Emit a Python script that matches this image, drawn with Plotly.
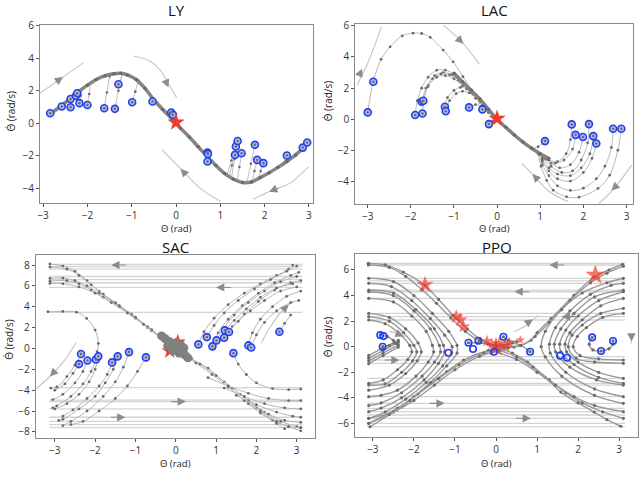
import plotly.graph_objects as go
from plotly.subplots import make_subplots

# ====================== DATA ======================
# ---------- LY ----------
LY_CURVE_X = [-2.85, -2.6, -2.4, -2.2, -2.0, -1.8, -1.6, -1.4, -1.25, -1.1, -0.9, -0.7, -0.5, -0.3, -0.1,
              0.1, 0.3, 0.5, 0.7, 0.9, 1.1, 1.3, 1.5, 1.7, 1.9, 2.1, 2.3, 2.5, 2.7, 2.9, 3.0]
LY_CURVE_Y = [0.55, 1.05, 1.5, 1.95, 2.35, 2.7, 2.93, 3.05, 3.08, 2.98, 2.7, 2.15, 1.45, 0.85, 0.3,
              -0.3, -0.85, -1.45, -2.05, -2.6, -3.1, -3.45, -3.65, -3.62, -3.35, -3.05, -2.72, -2.36, -1.95, -1.45, -1.15]
LY_START_X = [-2.84, -2.58, -2.38, -2.38, -2.26, -2.23, -2.18, -2.0, -1.62, -1.38, -1.30, -0.99, -0.53, -0.11,
              -0.07, 0.71, 0.72, 0.71, 1.33, 1.35, 1.39, 1.48, 1.78, 1.83, 1.97, 2.50, 2.86, 2.96]
LY_START_Y = [0.62, 1.03, 1.5, 0.99, 1.7, 1.85, 1.24, 1.13, 0.93, 0.89, 2.41, 1.3, 1.34, 0.66,
              0.52, -1.8, -1.89, -2.36, -1.95, -1.43, -1.09, -1.85, -1.33, -2.26, -2.46, -1.99, -1.5, -1.19]
LY_TRAJ = [
    [(-2.0, 1.13), (-1.96, 1.8), (-1.93, 2.45)],
    [(-2.18, 1.24), (-2.15, 1.7), (-2.12, 2.1)],
    [(-2.38, 0.99), (-2.35, 1.35), (-2.33, 1.7)],
    [(-1.62, 0.93), (-1.56, 1.9), (-1.5, 2.9)],
    [(-1.38, 0.89), (-1.3, 2.0), (-1.22, 3.05)],
    [(-1.30, 2.41), (-1.2, 3.05)],
    [(-0.99, 1.3), (-0.92, 1.95), (-0.85, 2.62)],
    [(1.33, -1.95), (1.26, -2.6), (1.2, -3.3)],
    [(1.35, -1.43), (1.25, -2.3), (1.15, -3.2)],
    [(1.39, -1.09), (1.32, -2.2), (1.25, -3.4)],
    [(1.48, -1.85), (1.43, -2.7), (1.38, -3.55)],
    [(1.78, -1.33), (1.69, -2.5), (1.6, -3.65)],
    [(1.83, -2.26), (1.77, -2.95), (1.72, -3.62)],
    [(1.97, -2.46), (1.91, -2.95), (1.85, -3.45)],
    [(2.50, -1.99), (2.4, -2.55)],
]
LY_STREAMS = [
    [(-3.07, 1.85), (-2.6, 2.75), (-2.09, 3.74)],
    [(-0.96, 4.15), (-0.6, 3.85), (-0.35, 3.25), (-0.14, 2.3), (0.02, 1.54)],
    [(-0.31, -1.64), (0.13, -2.87), (0.54, -4.0), (1.01, -4.83)],
    [(1.74, -4.68), (2.16, -4.15), (2.57, -3.69), (2.99, -2.67)],
]
LY_ARROWS = [((-2.55, 2.86), (-2.75, 2.48)), ((-0.17, 2.2), (-0.24, 2.65)),
             ((0.1, -2.8), (0.25, -3.25)), ((2.1, -4.22), (2.35, -3.95))]
LY_STAR_X = [0.0]
LY_STAR_Y = [0.05]

# ---------- LAC ----------
LAC_DIAG_X = [-1.0, -0.8, -0.6, -0.4, -0.2, 0.0, 0.2, 0.4, 0.6, 0.8, 1.0, 1.2]
LAC_DIAG_Y = [2.95, 2.4, 1.85, 1.3, 0.65, 0.0, -0.5, -1.0, -1.45, -1.85, -2.2, -2.5]
LAC_START_X = [-3.0, -2.87, -1.90, -1.75, -1.71, -1.73, -1.21, -1.19, -0.65, -0.34, -0.19,
               1.11, 1.73, 1.82, 1.99, 2.13, 2.23, 2.30, 2.69, 2.88]
LAC_START_Y = [0.45, 2.41, 0.28, 1.13, 1.19, 0.38, 0.81, 0.53, 0.77, 0.64, -0.30,
               -1.39, -0.32, -0.99, -1.13, -0.30, -1.07, -1.54, -0.60, -0.60]
LAC_TRAJ = [
    [(-3.0, 0.45), (-2.87, 2.41), (-2.69, 3.85), (-2.48, 4.65), (-2.2, 5.35), (-1.95, 5.52), (-1.75, 5.5),
     (-1.55, 5.25), (-1.25, 4.44), (-1.02, 3.69), (-0.79, 2.73), (-0.6, 1.9)],
    [(-1.9, 0.28), (-1.85, 1.2), (-1.75, 2.0), (-1.6, 2.7), (-1.4, 3.15), (-1.2, 3.15), (-1.0, 2.9), (-0.8, 2.4), (-0.6, 1.75)],
    [(-1.73, 0.38), (-1.7, 1.3), (-1.6, 2.2), (-1.45, 2.8), (-1.25, 3.0), (-1.05, 2.85), (-0.85, 2.4), (-0.6, 1.7)],
    [(-1.75, 1.13), (-1.65, 2.0), (-1.5, 2.6), (-1.3, 2.9), (-1.1, 2.85), (-0.9, 2.5), (-0.7, 1.95)],
    [(-1.71, 1.19), (-1.6, 2.1), (-1.4, 2.7), (-1.2, 2.8), (-1.0, 2.6), (-0.8, 2.15)],
    [(-1.21, 0.81), (-1.15, 1.4), (-1.0, 1.85), (-0.85, 2.05), (-0.7, 1.95), (-0.55, 1.6), (-0.4, 1.1)],
    [(-1.19, 0.53), (-1.1, 1.2), (-0.95, 1.65), (-0.8, 1.8), (-0.65, 1.7), (-0.5, 1.35), (-0.35, 0.9)],
    [(-0.65, 0.77), (-0.5, 0.95), (-0.35, 0.8), (-0.2, 0.45)],
    [(-0.34, 0.64), (-0.2, 0.45), (0.0, 0.0)],
    [(-0.19, -0.3), (-0.1, -0.1), (0.0, 0.0)],
    [(2.88, -0.6), (2.8, -1.97), (2.61, -3.57), (2.34, -4.42), (1.9, -4.98), (1.61, -4.96), (1.3, -4.53), (1.15, -3.9), (1.02, -3.0), (0.95, -2.2)],
    [(2.69, -0.6), (2.65, -1.8), (2.5, -3.0), (2.3, -3.8), (2.0, -4.4), (1.7, -4.55), (1.4, -4.25), (1.2, -3.6), (1.05, -2.9), (0.98, -2.25)],
    [(2.30, -1.54), (2.2, -2.5), (2.0, -3.4), (1.7, -3.95), (1.4, -3.8), (1.2, -3.3), (1.05, -2.7)],
    [(2.23, -1.07), (2.15, -2.2), (1.95, -3.1), (1.7, -3.6), (1.4, -3.5), (1.2, -3.1), (1.05, -2.6)],
    [(2.13, -0.30), (2.1, -1.5), (1.95, -2.6), (1.75, -3.3), (1.5, -3.4), (1.25, -3.0), (1.05, -2.5)],
    [(1.99, -1.13), (1.9, -2.1), (1.7, -2.9), (1.45, -3.1), (1.25, -2.8), (1.1, -2.5)],
    [(1.82, -0.99), (1.75, -1.9), (1.55, -2.6), (1.35, -2.8), (1.15, -2.55)],
    [(1.73, -0.32), (1.7, -1.3), (1.6, -2.2), (1.4, -2.7), (1.2, -2.6), (1.05, -2.35)],
    [(1.11, -1.39), (0.95, -1.75), (0.8, -1.85), (0.65, -1.55)],
]
LAC_STREAMS = [
    [(-3.25, 2.2), (-3.0, 3.6), (-2.68, 5.94)],
    [(-1.25, 6.04), (-0.82, 4.97), (-0.41, 3.54)],
    [(0.57, -2.82), (0.84, -3.57), (1.2, -4.6), (1.65, -5.28)],
    [(2.36, -5.38), (2.69, -4.49), (3.12, -2.93)],
]
LAC_ARROWS = [((-3.13, 3.25), (-3.2, 2.8)), ((-0.78, 4.85), (-0.95, 5.3)),
              ((0.82, -3.5), (0.97, -3.95)), ((2.65, -4.55), (2.8, -4.15))]
LAC_STAR_X = [0.0]
LAC_STAR_Y = [0.05]

# ---------- SAC ----------
SAC_START_X = [-2.35, -2.40, -2.19, -1.98, -1.92, -1.58, -1.44, -1.16, -0.74,
               0.56, 0.77, 0.91, 1.01, 1.20, 1.22, 1.32, 1.43, 1.80, 1.87, 2.57]
SAC_START_Y = [-0.54, -1.5, -1.15, -1.05, -0.76, -1.34, -0.76, -0.35, -0.86,
               0.39, 1.09, 0.2, 0.77, 1.02, 1.73, 1.57, -0.45, 0.29, 0.09, 1.6]
SAC_TRAJ = [
    # lower-left fan
    [(-2.35, -0.54), (-2.5, -1.6), (-2.7, -2.7), (-2.95, -3.7), (-3.1, -3.8)],
    [(-2.40, -1.5), (-2.55, -2.4), (-2.75, -3.4), (-3.0, -4.0)],
    [(-2.19, -1.15), (-2.3, -2.2), (-2.5, -3.3), (-2.8, -4.4), (-3.05, -4.9)],
    [(-1.98, -1.05), (-2.1, -2.2), (-2.3, -3.4), (-2.6, -4.6), (-2.95, -5.5), (-3.05, -5.7)],
    [(-1.92, -0.76), (-2.0, -2.0), (-2.15, -3.2), (-2.4, -4.4), (-2.7, -5.3), (-3.0, -5.8)],
    [(-1.58, -1.34), (-1.7, -2.5), (-1.9, -3.6), (-2.2, -4.8), (-2.55, -5.9), (-2.8, -6.5)],
    [(-1.44, -0.76), (-1.55, -2.0), (-1.75, -3.3), (-2.0, -4.6), (-2.4, -5.8), (-2.8, -6.8), (-2.9, -6.9)],
    [(-1.16, -0.35), (-1.3, -1.8), (-1.5, -3.2), (-1.8, -4.6), (-2.2, -6.0), (-2.6, -7.0), (-2.8, -7.4)],
    [(-0.74, -0.86), (-0.95, -2.2), (-1.2, -3.6), (-1.5, -4.8), (-1.9, -6.0), (-2.3, -7.0), (-2.6, -7.3)],
    # upper-right fan
    [(0.56, 0.39), (0.7, 1.6), (0.95, 2.9), (1.3, 4.2), (1.7, 5.3), (2.1, 6.2), (2.5, 7.0), (2.8, 7.6), (2.9, 8.0)],
    [(0.77, 1.09), (0.95, 2.2), (1.2, 3.4), (1.55, 4.6), (1.95, 5.7), (2.35, 6.6), (2.75, 7.4), (3.0, 7.9)],
    [(0.91, 0.2), (1.05, 1.5), (1.3, 2.8), (1.65, 4.1), (2.05, 5.3), (2.45, 6.3), (2.85, 7.0), (3.05, 7.3)],
    [(1.01, 0.77), (1.2, 2.0), (1.45, 3.2), (1.8, 4.4), (2.2, 5.5), (2.6, 6.4), (3.0, 6.9)],
    [(1.20, 1.02), (1.4, 2.1), (1.7, 3.3), (2.05, 4.5), (2.45, 5.6), (2.85, 6.3), (3.1, 6.5)],
    [(1.22, 1.73), (1.45, 2.7), (1.75, 3.8), (2.1, 4.9), (2.5, 5.8), (2.9, 6.2)],
    [(1.32, 1.57), (1.55, 2.6), (1.85, 3.6), (2.2, 4.6), (2.6, 5.5), (3.0, 5.9)],
    [(1.80, 0.29), (1.9, 1.5), (2.1, 2.8), (2.4, 4.0), (2.75, 5.0), (3.1, 5.5)],
    [(1.87, 0.09), (2.0, 1.3), (2.2, 2.5), (2.5, 3.6), (2.85, 4.4), (3.05, 4.6)],
    [(2.57, 1.6), (2.7, 2.4), (2.85, 3.2)],
    [(1.43, -0.45), (1.55, -1.5), (1.75, -2.5), (2.0, -3.3), (2.4, -3.85), (2.8, -3.95), (3.1, -3.9)],
    # left arc
    [(-3.17, 3.52), (-2.8, 3.55), (-2.46, 3.48), (-2.21, 2.88), (-2.0, 1.76), (-1.92, 0.48), (-1.95, -0.3)],
    # diagonal band
    [(-3.12, 8.1), (-2.8, 7.9), (-2.5, 7.4), (-2.2, 6.5), (-1.9, 5.5), (-1.5, 4.4), (-1.1, 3.3), (-0.7, 2.1), (-0.3, 0.9), (0.0, 0.0)],
    [(-3.12, 7.8), (-2.7, 7.6), (-2.4, 7.0), (-2.1, 6.1), (-1.8, 5.2), (-1.4, 4.1), (-1.0, 3.0), (-0.6, 1.8), (-0.2, 0.6), (0.0, 0.0)],
    [(-3.12, 6.72), (-2.8, 6.75), (-2.5, 6.5), (-2.2, 6.0), (-1.9, 5.3), (-1.5, 4.3), (-1.1, 3.2), (-0.7, 2.0), (-0.3, 0.8)],
    [(-3.12, 6.45), (-2.7, 6.5), (-2.4, 6.2), (-2.1, 5.6), (-1.8, 4.9), (-1.4, 4.0), (-1.0, 2.9), (-0.6, 1.7), (-0.2, 0.5)],
    [(-3.12, 6.24), (-2.8, 6.2), (-2.4, 5.9), (-2.0, 5.3), (-1.6, 4.4), (-1.2, 3.4), (-0.8, 2.3), (-0.4, 1.1)],
    [(0.0, 0.0), (0.4, -1.0), (0.8, -1.9), (1.2, -3.2), (1.6, -4.4), (2.0, -5.7), (2.4, -6.9), (2.8, -7.5), (3.1, -7.9)],
    [(0.1, -0.5), (0.5, -1.4), (0.9, -2.5), (1.3, -3.7), (1.7, -5.0), (2.1, -6.2), (2.5, -7.2), (2.7, -7.7)],
    [(0.2, -0.6), (0.6, -1.5), (1.0, -2.6), (1.4, -3.8), (1.8, -5.0), (2.2, -6.1), (2.6, -7.0), (3.0, -7.5), (3.1, -7.6)],
    [(0.8, -2.8), (1.3, -3.6), (1.8, -4.3), (2.3, -4.8), (2.8, -5.0), (3.1, -5.0)],
    [(1.2, -3.8), (1.7, -4.6), (2.2, -5.3), (2.7, -5.7), (3.1, -5.8)],
    [(1.5, -4.5), (2.0, -5.4), (2.5, -6.1), (2.9, -6.5), (3.1, -6.6)],
    [(1.8, -5.3), (2.3, -6.3), (2.7, -6.9), (3.1, -7.1)],
    [(2.1, -6.0), (2.5, -7.0), (2.8, -7.5), (3.1, -7.6)],
]
SAC_BLOB_X = [-0.35, -0.27, -0.18, -0.1, -0.02, 0.06, 0.14, 0.22, 0.3, -0.2, 0.12, -0.08, 0.2, 0.0, 0.08]
SAC_BLOB_Y = [1.2, 0.95, 0.7, 0.45, 0.2, -0.05, -0.3, -0.6, -0.9, 0.25, 0.35, -0.2, 0.05, 0.55, -0.45]
SAC_HLINE_Y = [8.05, 7.85, 7.6, 6.9, 6.6, 6.3, 5.85, 3.45, -3.75, -4.95, -5.1, -5.8, -6.6, -7.0, -7.3, -7.6]
SAC_STREAMS = [
    [(-3.46, -3.85), (-3.07, -2.5), (-2.75, -1.1), (-2.47, 0.6)],
    [(2.12, 0.5), (2.3, 1.8), (2.55, 3.2), (2.77, 4.11), (2.94, 4.5)],
]
SAC_ARROWS = [((-1.6, 8.0), (-1.2, 8.0)), ((1.0, 5.85), (1.4, 5.85)), ((0.25, -5.1), (-0.15, -5.1)),
              ((-1.25, -6.6), (-1.65, -6.6)), ((-3.12, -2.7), (-3.0, -2.2)), ((2.8, 4.2), (2.68, 3.75))]
SAC_STAR_X = [0.05, -0.15, 0.1, -0.1, 0.0]
SAC_STAR_Y = [0.6, -0.25, 0.0, 0.3, 0.1]

# ---------- PPO ----------
PPO_HLINE_Y = [6.52, 6.39, 5.35, 5.15, 4.96, 4.43, 4.3, 3.78, 2.61, 2.35, 2.09, -0.78, -1.04, -1.3,
               -2.48, -2.87, -3.0, -3.91, -4.43, -4.82, -5.08, -5.34, -5.6, -5.99, -6.25]
PPO_START_X = [-2.82, -2.74, -2.76, -1.16, -0.67, -0.56, -0.43, -0.05, 0.18, 0.83, 1.56, 1.73, 2.34, 2.56, 2.85]
PPO_START_Y = [0.91, 0.83, 0.0, -0.47, 0.31, -0.18, 0.47, -0.39, 0.78, -0.39, -0.7, -0.86, 0.73, -0.34, 0.45]
PPO_TRAJ = [
    # separatrix bundles
    [(-3.11, 6.52), (-2.7, 6.4), (-2.26, 5.84), (-1.73, 4.8), (-1.4, 3.7), (-1.04, 2.45), (-0.7, 1.4), (-0.4, 0.63), (0.0, 0.1), (0.3, 0.2)],
    [(-3.11, 6.39), (-2.6, 6.2), (-2.2, 5.5), (-1.8, 4.45), (-1.45, 3.4), (-1.1, 2.25), (-0.75, 1.2), (-0.4, 0.45), (0.0, 0.05)],
    [(3.08, 6.45), (2.75, 6.0), (2.39, 5.45), (1.9, 4.02), (1.34, 2.19), (1.0, 1.1), (0.85, 0.5), (0.44, -0.03), (0.0, 0.0)],
    [(3.1, 6.3), (2.7, 5.75), (2.3, 5.0), (1.8, 3.6), (1.3, 1.9), (0.95, 0.8), (0.6, 0.1), (0.2, 0.05)],
    [(0.3, -0.1), (-0.19, -0.3), (-0.79, -1.04), (-1.2, -1.95), (-1.6, -2.87), (-2.0, -3.9), (-2.42, -4.95), (-3.07, -6.26)],
    [(0.2, -0.2), (-0.3, -0.5), (-0.9, -1.4), (-1.4, -2.5), (-1.9, -3.7), (-2.4, -4.8), (-3.1, -5.99)],
    [(0.1, -0.3), (-0.4, -0.75), (-1.0, -1.8), (-1.5, -3.0), (-2.0, -4.2), (-2.5, -5.1), (-3.1, -5.6)],
    [(0.0, 0.0), (0.4, -0.5), (0.77, -1.2), (1.2, -2.4), (1.58, -3.55), (2.0, -4.4), (2.39, -5.11), (2.7, -5.7), (3.04, -6.22)],
    [(0.0, -0.2), (0.5, -0.8), (0.9, -1.6), (1.3, -2.6), (1.7, -3.6), (2.1, -4.4), (2.6, -5.1), (3.1, -5.6)],
    [(-0.1, -0.3), (0.5, -1.0), (1.0, -2.0), (1.45, -3.0), (1.9, -3.9), (2.4, -4.6), (3.1, -5.08)],
    # left chevrons
    [(-3.1, 2.09), (-2.7, 1.8), (-2.35, 1.0), (-2.1, 0.1), (-2.05, -0.4), (-2.15, -1.0), (-2.4, -1.8), (-2.75, -2.6), (-3.1, -2.87)],
    [(-3.1, 2.35), (-2.6, 2.0), (-2.25, 1.1), (-2.0, 0.1), (-1.93, -0.4), (-2.03, -1.1), (-2.3, -2.0), (-2.7, -2.9), (-3.1, -3.0)],
    [(-3.1, 2.61), (-2.6, 2.3), (-2.2, 1.4), (-1.9, 0.3), (-1.82, -0.4), (-1.92, -1.1), (-2.2, -2.1), (-2.6, -3.0), (-3.1, -3.4)],
    [(-3.1, 3.78), (-2.5, 3.5), (-2.05, 2.4), (-1.7, 1.2), (-1.55, 0.1), (-1.52, -0.4), (-1.65, -1.2), (-1.95, -2.3), (-2.4, -3.4), (-2.8, -3.8), (-3.1, -3.91)],
    [(-3.1, 4.3), (-2.5, 4.0), (-2.0, 2.8), (-1.6, 1.4), (-1.38, 0.1), (-1.35, -0.4), (-1.5, -1.2), (-1.8, -2.3), (-2.3, -3.6), (-2.8, -4.4), (-3.1, -4.6)],
    [(-3.1, 4.43), (-2.5, 4.2), (-1.95, 2.9), (-1.5, 1.4), (-1.28, 0.1), (-1.25, -0.4), (-1.4, -1.3), (-1.75, -2.6), (-2.3, -4.0), (-2.8, -4.8), (-3.1, -5.08)],
    [(-3.1, 4.96), (-2.55, 4.7), (-2.05, 3.6), (-1.6, 2.2), (-1.25, 0.9), (-1.07, 0.0), (-1.08, -0.5), (-1.3, -1.5), (-1.7, -2.8), (-2.2, -4.1), (-2.7, -5.1), (-3.1, -5.6)],
    [(-3.1, 5.35), (-2.5, 5.1), (-2.0, 4.0), (-1.55, 2.6), (-1.15, 1.2), (-0.95, 0.1), (-0.95, -0.5), (-1.2, -1.5), (-1.6, -2.8), (-2.1, -4.2), (-2.6, -5.3), (-3.1, -5.99)],
    # right chevrons
    [(3.1, -1.04), (2.5, -0.95), (2.05, -0.7), (1.88, 0.0), (1.98, 0.8), (2.2, 1.5), (2.6, 2.3), (3.1, 2.61)],
    [(3.1, -1.3), (2.4, -1.2), (1.95, -0.9), (1.76, 0.0), (1.85, 0.9), (2.1, 1.7), (2.55, 2.6), (3.1, 3.0)],
    [(3.1, -2.48), (2.5, -2.0), (2.0, -1.2), (1.72, -0.4), (1.68, 0.2), (1.8, 1.1), (2.1, 2.1), (2.55, 3.2), (3.1, 3.78)],
    [(3.1, -2.87), (2.5, -2.4), (1.9, -1.4), (1.58, -0.4), (1.55, 0.2), (1.7, 1.3), (2.0, 2.4), (2.5, 3.6), (3.1, 4.3)],
    [(3.1, -3.0), (2.45, -2.6), (1.8, -1.6), (1.45, -0.4), (1.42, 0.2), (1.58, 1.4), (1.9, 2.6), (2.4, 3.9), (3.1, 4.43)],
    [(3.1, -3.91), (2.4, -3.3), (1.7, -2.0), (1.32, -0.5), (1.3, 0.2), (1.45, 1.5), (1.8, 2.8), (2.3, 4.1), (2.8, 4.8), (3.1, 4.96)],
    [(3.1, -4.43), (2.4, -3.8), (1.6, -2.3), (1.2, -0.8), (1.1, 0.0), (1.2, 1.2), (1.6, 2.9), (2.1, 4.2), (2.7, 5.0), (3.1, 5.35)],
    # spirals / wedges
    [(2.34, 0.73), (2.27, 0.2), (2.36, -0.25), (2.56, -0.34), (2.75, -0.15), (2.85, 0.2), (2.85, 0.45)],
    [(-3.1, -0.68), (-2.75, -0.1), (-2.38, 0.5)],
    [(-3.1, -0.9), (-2.75, -0.3), (-2.38, 0.35)],
    [(-3.1, -1.1), (-2.75, -0.5), (-2.38, 0.15)],
    [(-3.1, -1.33), (-2.75, -0.7), (-2.38, -0.03)],
    [(-2.82, 0.91), (-2.65, 0.8), (-2.5, 0.5), (-2.42, 0.25)],
    [(-2.76, 0.0), (-2.6, 0.1), (-2.48, 0.3)],
    [(-0.67, 0.31), (-0.45, 0.3), (-0.2, 0.2)],
    [(0.83, -0.39), (0.6, 0.1), (0.4, 0.3)],
    [(0.18, 0.78), (0.3, 0.5), (0.5, 0.4)],
]
PPO_STREAMS = [
    [(-2.6, 1.2), (-2.4, 1.05), (-2.2, 0.75)],
    [(0.43, 1.17), (0.75, 1.7), (1.03, 2.45)],
    [(3.2, 1.0), (3.3, 0.6), (3.28, 0.2)],
]
PPO_ARROWS = [((1.3, 6.39), (1.7, 6.39)), ((0.45, 4.3), (0.85, 4.3)), ((-1.25, -4.43), (-1.65, -4.43)),
              ((0.85, -5.6), (0.45, -5.6)), ((-2.35, -1.04), (-2.75, -1.04)), ((-2.25, 0.82), (-2.45, 1.08)),
              ((0.9, 2.15), (0.72, 1.75)), ((1.6, 2.35), (2.0, 2.35)), ((3.3, 0.4), (3.3, 0.8))]
PPO_STAR_X = [-1.73, -0.97, -0.87, -0.79, 0.0, -0.22, 0.08, 0.22, 0.32, -0.1, 0.59, 2.42]
PPO_STAR_Y = [4.83, 2.35, 2.1, 1.56, -0.05, 0.44, 0.25, 0.1, 0.3, 0.2, 0.52, 5.61]
PPO_STAR_S = [12, 10, 10, 9, 14, 8, 9, 9, 8, 8, 6, 14]

# ====================== FIGURE ======================
fig = make_subplots(rows=2, cols=2)

GRAY_LINE = "#c4c4c4"
TRAJ_LINE = "#a6a6a6"
DOT = "#6b6b6b"
BLUE = "#2140f0"
RED = "#ee3b2c"
ARROW = "#8c8c8c"

cells = {"LY": (1, 1), "LAC": (1, 2), "SAC": (2, 1), "PPO": (2, 2)}
axnames = {"LY": ("x", "y"), "LAC": ("x2", "y2"), "SAC": ("x3", "y3"), "PPO": ("x4", "y4")}


def add_path(name, pts, color=TRAJ_LINE, width=1, dots=True, dsize=3.0, spline=True, dcolor=DOT):
    r, c = cells[name]
    xs = [p[0] for p in pts]
    ys = [p[1] for p in pts]
    fig.add_trace(go.Scatter(x=xs, y=ys, mode="lines+markers" if dots else "lines",
                             line=dict(color=color, width=width, shape="spline" if spline else "linear"),
                             marker=dict(size=dsize, color=dcolor), hoverinfo="skip", showlegend=False),
                  row=r, col=c)


def add_hlines(name, ys, x0, x1):
    r, c = cells[name]
    xs, yy = [], []
    for y in ys:
        xs += [x0, x1, None]
        yy += [y, y, None]
    fig.add_trace(go.Scatter(x=xs, y=yy, mode="lines", line=dict(color="#d4d4d4", width=1.3),
                             hoverinfo="skip", showlegend=False), row=r, col=c)


def add_arrows(name, arrows):
    xa, ya = axnames[name]
    for (hx, hy), (tx, ty) in arrows:
        fig.add_annotation(x=hx, y=hy, ax=tx, ay=ty, xref=xa, yref=ya, axref=xa, ayref=ya,
                           text="", showarrow=True, arrowhead=2, arrowsize=1.5, arrowwidth=1.1,
                           arrowcolor=ARROW)


def add_starts(name, xs, ys, open_circle=False):
    r, c = cells[name]
    if open_circle:
        fig.add_trace(go.Scatter(x=xs, y=ys, mode="markers",
                                 marker=dict(size=6.5, color="rgba(255,255,255,0)",
                                             line=dict(color=BLUE, width=1.6)),
                                 hoverinfo="skip", showlegend=False), row=r, col=c)
    else:
        fig.add_trace(go.Scatter(x=xs, y=ys, mode="markers",
                                 marker=dict(size=7, color="#b4b8dc", line=dict(color=BLUE, width=1.6)),
                                 hoverinfo="skip", showlegend=False), row=r, col=c)
        fig.add_trace(go.Scatter(x=xs, y=ys, mode="markers", marker=dict(size=2.5, color=DOT),
                                 hoverinfo="skip", showlegend=False), row=r, col=c)


def add_stars(name, xs, ys, sizes=12):
    r, c = cells[name]
    fig.add_trace(go.Scatter(x=xs, y=ys, mode="markers",
                             marker=dict(symbol="star", size=sizes, color=RED, line=dict(color=RED, width=0.5)),
                             hoverinfo="skip", showlegend=False), row=r, col=c)


# ---- LY ----
for s in LY_STREAMS:
    add_path("LY", s, color=GRAY_LINE, width=1.1, dots=False)
for t in LY_TRAJ:
    add_path("LY", t, color="#bdbdbd", width=1, dsize=2.6)
fig.add_trace(go.Scatter(x=LY_CURVE_X, y=LY_CURVE_Y, mode="lines+markers",
                         line=dict(color="#858585", width=3.5, shape="spline"),
                         marker=dict(size=3.5, color="#6a6a6a"), hoverinfo="skip", showlegend=False), row=1, col=1)
add_starts("LY", LY_START_X, LY_START_Y)
add_stars("LY", LY_STAR_X, LY_STAR_Y, 12)
add_arrows("LY", LY_ARROWS)

# ---- LAC ----
for s in LAC_STREAMS:
    add_path("LAC", s, color=GRAY_LINE, width=1.1, dots=False)
for t in LAC_TRAJ:
    add_path("LAC", t, color="#bababa", width=1, dsize=2.8)
fig.add_trace(go.Scatter(x=LAC_DIAG_X, y=LAC_DIAG_Y, mode="lines+markers",
                         line=dict(color="#828282", width=3.5, shape="spline"),
                         marker=dict(size=3.5, color="#6a6a6a"), hoverinfo="skip", showlegend=False), row=1, col=2)
add_starts("LAC", LAC_START_X, LAC_START_Y)
add_stars("LAC", LAC_STAR_X, LAC_STAR_Y, 12)
add_arrows("LAC", LAC_ARROWS)

# ---- SAC ----
add_hlines("SAC", SAC_HLINE_Y, -3.14, 3.14)
for s in SAC_STREAMS:
    add_path("SAC", s, color=GRAY_LINE, width=1.1, dots=False)
for t in SAC_TRAJ:
    add_path("SAC", t, color="#b5b5b5", width=1, dsize=2.8)
add_starts("SAC", SAC_START_X, SAC_START_Y)
add_stars("SAC", SAC_STAR_X, SAC_STAR_Y, 11)
fig.add_trace(go.Scatter(x=SAC_BLOB_X, y=SAC_BLOB_Y, mode="markers",
                         marker=dict(size=9, color="#808080"), hoverinfo="skip", showlegend=False), row=2, col=1)
add_arrows("SAC", SAC_ARROWS)

# ---- PPO ----
add_hlines("PPO", PPO_HLINE_Y, -3.14, 3.14)
for s in PPO_STREAMS:
    add_path("PPO", s, color=GRAY_LINE, width=1.1, dots=False)
for t in PPO_TRAJ:
    add_path("PPO", t, color="#999999", width=1.4, dsize=3.2)
add_stars("PPO", PPO_STAR_X, PPO_STAR_Y, PPO_STAR_S)
add_starts("PPO", PPO_START_X, PPO_START_Y, open_circle=True)
add_arrows("PPO", PPO_ARROWS)

# ====================== LAYOUT ======================
FONT = "Open Sans, Lato, DejaVu Sans, sans-serif"
axis_specs = [
    ("xaxis", "yaxis", [0.0625, 0.489], [0.596, 0.950], [-3.07, 3.09], [-4.93, 6.05], [-4, -2, 0, 2, 4, 6]),
    ("xaxis2", "yaxis2", [0.555, 0.989], [0.594, 0.952], [-3.29, 3.15], [-5.43, 6.1], [-4, -2, 0, 2, 4, 6]),
    ("xaxis3", "yaxis3", [0.056, 0.492], [0.129, 0.493], [-3.47, 3.45], [-8.6, 8.96], [-8, -6, -4, -2, 0, 2, 4, 6, 8]),
    ("xaxis4", "yaxis4", [0.555, 0.997], [0.131, 0.495], [-3.43, 3.46], [-7.07, 7.25], [-6, -4, -2, 0, 2, 4, 6]),
]
common = dict(showgrid=False, zeroline=False, showline=True, linecolor="#8a8a8a", linewidth=1.2,
              mirror=True, ticks="outside", ticklen=3, tickcolor="#555", automargin=False,
              tickfont=dict(size=10, color="#333", family=FONT))
for xa, ya, xd, yd, xr, yr, yt in axis_specs:
    fig.update_layout({xa: dict(domain=xd, range=xr, tickvals=[-3, -2, -1, 0, 1, 2, 3], **common),
                       ya: dict(domain=yd, range=yr, tickvals=yt, **common)})

titles = [("LY", 0.276, 0.980), ("LAC", 0.772, 0.980), ("SAC", 0.274, 0.508), ("PPO", 0.776, 0.508)]
for t, x, y in titles:
    fig.add_annotation(text=t, x=x, y=y, xref="paper", yref="paper", showarrow=False,
                       xanchor="center", yanchor="middle", borderpad=0,
                       font=dict(size=15, color="#111", family=FONT))
xlabels = [(0.276, 0.546), (0.772, 0.546), (0.274, 0.079), (0.776, 0.079)]
for x, y in xlabels:
    fig.add_annotation(text="Θ (rad)", x=x, y=y, xref="paper", yref="paper", showarrow=False,
                       xanchor="center", yanchor="middle", borderpad=0,
                       font=dict(size=9.5, color="#222", family=FONT))
ylabels = [(0.017, 0.78), (0.512, 0.80), (0.013, 0.325), (0.513, 0.33)]
for x, y in ylabels:
    fig.add_annotation(text="Θ̇ (rad/s)", x=x, y=y, xref="paper", yref="paper", showarrow=False,
                       xanchor="center", yanchor="middle", borderpad=0,
                       textangle=-90, font=dict(size=10, color="#222", family=FONT))

fig.update_layout(width=640, height=503, margin=dict(l=0, r=0, t=0, b=0, autoexpand=False),
                  paper_bgcolor="white", plot_bgcolor="white", showlegend=False)

fig.write_html("out.html", config={"displayModeBar": False},
               post_script="document.body.style.margin='0';")
